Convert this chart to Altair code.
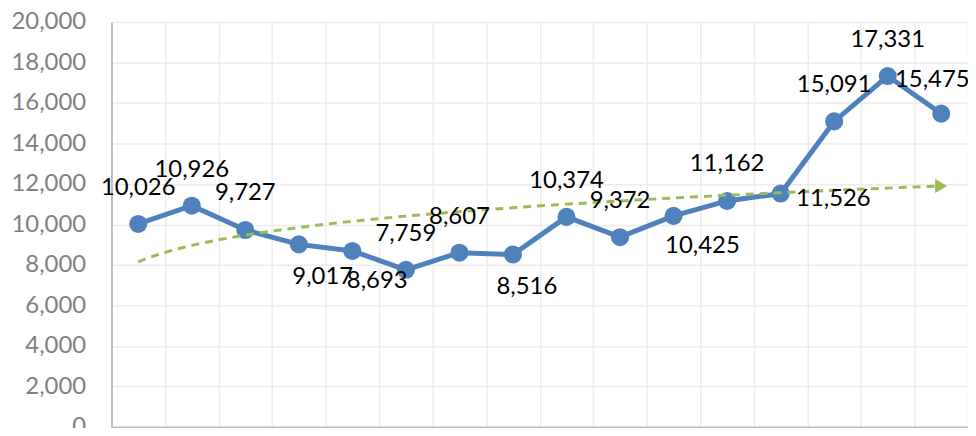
import altair as alt
import pandas as pd

# data
positions = list(range(1, 17))
values = [10026, 10926, 9727, 9017, 8693, 7759, 8607, 8516,
          10374, 9372, 10425, 11162, 11526, 15091, 17331, 15475]
labels = [f"{v:,}" for v in values]

# label placement (styling, pixels)
label_dx = [0, 0, 0, 24, 25, 0, 0, 14, 0, 0, 29, 0, 53, 0, 0, -9]
label_dy = [-36, -36, -37, 33, 30, -36, -36, 33, -36, -36, 30, -37, 5, -37, -36, -34]

y_ticks = list(range(0, 20001, 2000))
x_bounds = [i + 0.5 for i in range(0, 17)]

df = pd.DataFrame({"x": positions, "y": values, "label": labels,
                   "ldx": label_dx, "ldy": label_dy})

FONT = "Lato"
BLUE = "#4f81bd"
GREEN = "#9bbb59"

x_enc = alt.X("x:Q", scale=alt.Scale(domain=[0.5, 16.5], nice=False, zero=False),
              axis=alt.Axis(values=x_bounds, labels=False, title=None, ticks=True,
                            tickSize=12, tickColor="#bfbfbf", tickWidth=2,
                            domainColor="#bfbfbf", domainWidth=2,
                            grid=True, gridColor="#ececec", gridWidth=1.5))
y_enc = alt.Y("y:Q", scale=alt.Scale(domain=[0, 20000], nice=False),
              axis=alt.Axis(values=y_ticks, labelExpr="format(datum.value, ',')",
                            title=None, ticks=False,
                            labelPadding=26, labelFont=FONT, labelFontSize=24,
                            labelColor="#808080", domainColor="#bfbfbf", domainWidth=2,
                            grid=True, gridColor="#ececec", gridWidth=1.5))

base = alt.Chart(df)

line = base.mark_line(color=BLUE, strokeWidth=5).encode(x=x_enc, y=y_enc)
points = base.mark_point(filled=True, color=BLUE, opacity=1, size=330).encode(x="x:Q", y="y:Q")

trend = base.transform_regression("x", "y", method="pow", extent=[1, 16]).mark_line(
    color=GREEN, strokeWidth=3, strokeDash=[8, 6]).encode(x="x:Q", y="y:Q")

arrow = base.transform_regression("x", "y", method="pow", extent=[1, 16]).transform_filter(
    "datum.x >= 15.99").mark_point(shape="triangle-right", filled=True, color=GREEN,
                                   opacity=1, size=200, dx=-6).encode(x="x:Q", y="y:Q")

text = base.mark_text(font=FONT, fontSize=24, color="#000000", baseline="middle",
                      align="center", dx=alt.expr("datum.ldx"), dy=alt.expr("datum.ldy")
                      ).encode(x="x:Q", y="y:Q", text="label:N")

chart = alt.layer(line, points, trend, arrow, text).properties(
    width=861, height=407,
    autosize=alt.AutoSizeParams(type="none"),
    padding={"left": 104, "top": 13, "right": 0, "bottom": 0},
).configure_view(stroke="#c8c8c8", strokeWidth=1.5).configure(background="white")

chart.save("out.html", embed_options={"renderer": "svg", "actions": False})
